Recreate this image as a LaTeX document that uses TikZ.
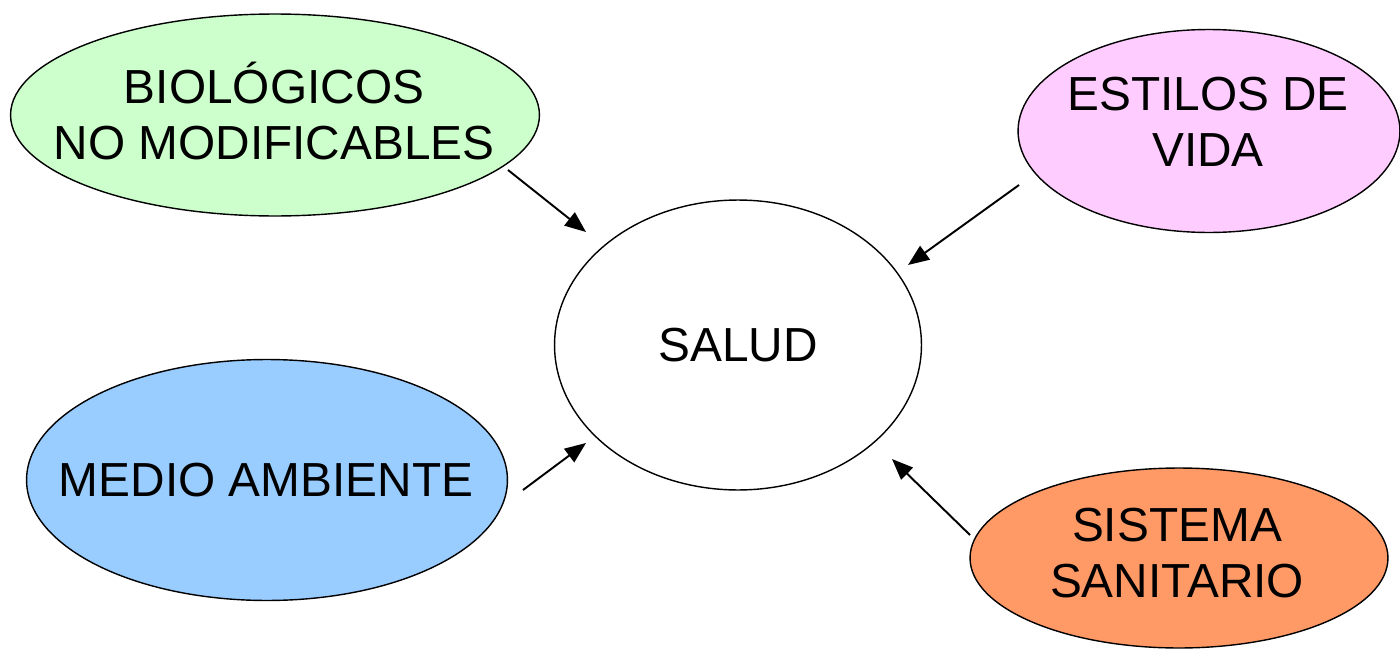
\documentclass[tikz,border=0pt]{standalone}
\usepackage{fontspec}
\setmainfont{Liberation Sans}
\usetikzlibrary{shapes.geometric,arrows.meta}
\definecolor{cgreen}{HTML}{CCFFCC}
\definecolor{cpink}{HTML}{FFCCFF}
\definecolor{cblue}{HTML}{99CCFF}
\definecolor{corange}{HTML}{FF9966}
\tikzset{
  ell/.style={ellipse, draw=black, line width=0.8pt, inner sep=0pt},
  txt/.style={inner sep=0pt, align=center, font=\fontsize{27.2}{32}\selectfont},
  arr/.style={line width=1.1pt, -{Triangle[length=12pt,width=9.5pt]}}
}
\begin{document}
\begin{tikzpicture}[x=0.02cm,y=-0.02cm]
\useasboundingbox (0,0) rectangle (1400,649);
\node[ell, fill=cgreen, minimum width=10.58cm, minimum height=4.04cm] (bio) at (275,115) {};
\node[ell, fill=cpink, minimum width=7.64cm, minimum height=4.06cm] (est) at (1209,131) {};
\node[ell, fill=white, minimum width=7.34cm, minimum height=5.8cm] (salud) at (738,345) {};
\node[ell, fill=cblue, minimum width=9.62cm, minimum height=4.82cm] (medio) at (267,480) {};
\node[ell, fill=corange, minimum width=8.36cm, minimum height=3.6cm] (sis) at (1179,558) {};
\node[txt] (biot) at (274,111) {BIOLÓGICOS\\NO MODIFICABLES};
\node[txt] (estt) at (1208,122) {ESTILOS DE\\VIDA};
\node[txt] (salt) at (738,345) {SALUD};
\node[txt] (medt) at (266,480) {MEDIO AMBIENTE};
\node[txt] (sist) at (1177,553) {SISTEMA\\SANITARIO};
\coordinate (a1s) at (508,170); \coordinate (a1e) at (586,232);
\coordinate (a2s) at (1019,185); \coordinate (a2e) at (908,265);
\coordinate (a3s) at (523,490); \coordinate (a3e) at (586,443);
\coordinate (a4s) at (970,535); \coordinate (a4e) at (892,459);
\draw[arr] (a1s) -- (a1e);
\draw[arr] (a2s) -- (a2e);
\draw[arr] (a3s) -- (a3e);
\draw[arr] (a4s) -- (a4e);
\end{tikzpicture}
\end{document}
